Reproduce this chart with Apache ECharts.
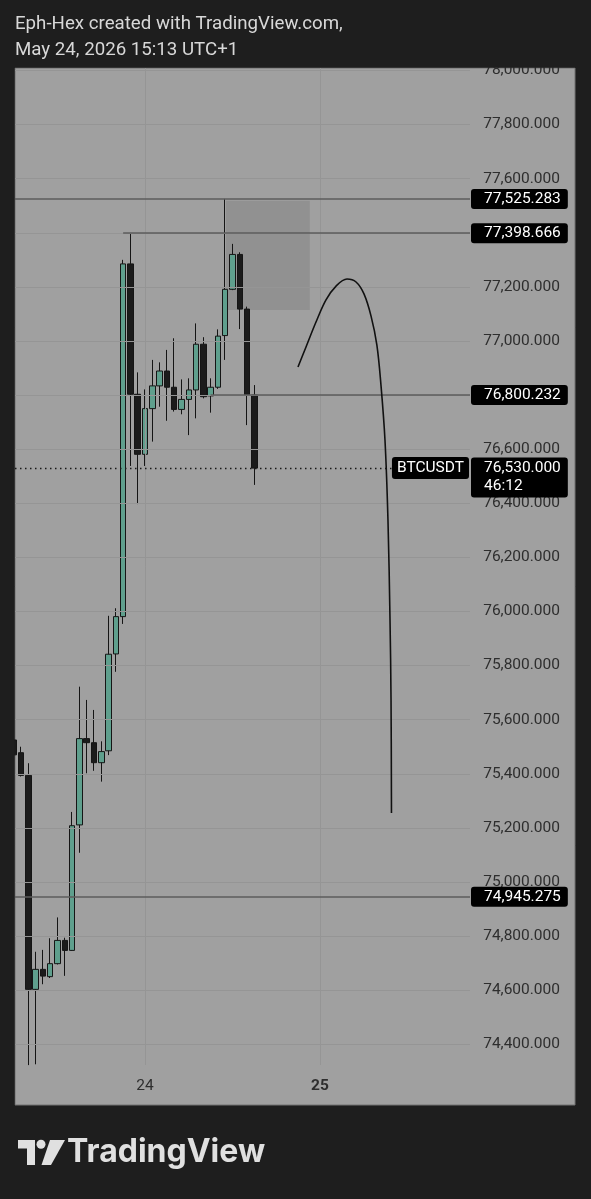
<!DOCTYPE html>
<html>
<head>
<meta charset="utf-8">
<script src="https://cdn.jsdelivr.net/npm/echarts@6/dist/echarts.min.js"></script>
<style>
html,body{margin:0;padding:0;background:#1e1e1e;}
#c{width:591px;height:1199px;}
</style>
</head>
<body>
<div id="c"></div>
<script>
// ---- data (1h candles, hour offset from 24 May 00:00) ----
const hours  = [-18,-17,-16,-15,-14,-13,-12,-11,-10,-9,-8,-7,-6,-5,-4,-3,-2,-1,0,1,2,3,4,5,6,7,8,9,10,11,12,13,14,15];
const opens  = [75525,75478,75394,74603,74677,74650,74698,74784,74747,75211,75530,75515,75441,75485,75843,75981,77285,76803,76581,76750,76834,76889,76829,76747,76784,76819,76988,76797,76829,77020,77191,77320,77118,76800];
const closes = [75470,75394,74603,74677,74652,74698,74784,74747,75208,75530,75515,75441,75482,75842,75981,77285,76803,76581,76750,76834,76889,76829,76747,76784,76819,76988,76794,76829,77018,77191,77320,77118,76800,76530];
const lows   = [75455,75390,74323,74326,74622,74645,74695,74653,74745,75108,75402,75411,75371,75469,75777,75954,76538,76397,76538,76628,76757,76705,76739,76729,76652,76714,76788,76735,76823,76930,77188,77044,76689,76468];
const highs  = [75535,75500,75439,74742,74749,74792,74869,74794,75259,75722,75673,75636,75520,75984,76012,77300,77398.666,76884,76821,76930,76921,76967,77010,76858,76862,77065,77014,76862,77043,77525.283,77359,77328,77127,76837];

const yTicks = [74400,74600,74800,75000,75200,75400,75600,75800,76000,76200,76400,76600,76800,77000,77200,77400,77600,77800,78000];
const xTicks = [0, 24];
const xTickLabels = ['24', '25'];

const fullLevels = [77525.283, 74945.275];
const rayStarts  = [-3, 9];
const rayLevels  = [77398.666, 76800.232];
const lastPrice  = 76530.000;
const countdown  = '46:12';
const symbol     = 'BTCUSDT';

const boxHours  = [11.1, 22.6];
const boxPrices = [77115, 77518];

const curveHours  = [20.98,22.08,23.45,24.82,26.2,27.7,28.94,30.03,31.0,31.8,32.36,32.91,33.32,33.6,33.74,33.8];
const curvePrices = [76904,76978,77070,77152,77203,77229,77218,77174,77092,76985,76837,76634,76338,75969,75673,75255];

// ---- axis ranges ----
const xMin = -17.83, xMax = 44.57;
const yMin = 74323.4, yMax = 78009.2;

const fmt = v => Number(v).toLocaleString('en-US', {minimumFractionDigits: 3, maximumFractionDigits: 3});
const FONT = 'Roboto';

const tagLabel = {
  show: true, position: 'end', distance: 1,
  backgroundColor: '#000', color: '#fff', fontFamily: FONT, fontSize: 15.5,
  lineHeight: 16, padding: [2, 7, 2, 13], borderRadius: 3
};

const chart = echarts.init(document.getElementById('c'), null, {renderer: 'canvas'});
chart.setOption({
  animation: false,
  backgroundColor: '#1e1e1e',
  grid: {left: 15, right: 121, top: 68, bottom: 134},
  xAxis: {
    type: 'value', min: xMin, max: xMax,
    axisLine: {show: false}, axisTick: {show: false}, splitLine: {show: false},
    axisLabel: {
      customValues: xTicks, margin: 13, color: '#2e2e2e', fontFamily: FONT, fontSize: 15.5,
      formatter: v => { const i = xTicks.indexOf(v); return i === 1 ? '{b|' + xTickLabels[i] + '}' : xTickLabels[i]; },
      rich: {b: {fontWeight: 'bold', color: '#2e2e2e', fontFamily: FONT, fontSize: 15.5}}
    }
  },
  yAxis: {
    type: 'value', position: 'right', min: yMin, max: yMax,
    axisLine: {show: false}, axisTick: {show: false}, splitLine: {show: false},
    axisLabel: {customValues: yTicks, align: 'right', margin: 90, color: '#2e2e2e', fontFamily: FONT, fontSize: 15.5, formatter: fmt}
  },
  graphic: [
    {type: 'rect', z: -100, shape: {x: 15, y: 68, width: 560, height: 1037}, style: {fill: '#a0a0a0', stroke: '#737373', lineWidth: 1}},
    {type: 'rect', z: 100, shape: {x: 0, y: 0, width: 591, height: 67.5}, style: {fill: '#1e1e1e'}},
    {type: 'rect', z: 100, shape: {x: 0, y: 60, width: 14.5, height: 1050}, style: {fill: '#1e1e1e'}},
    {type: 'text', z: 101, x: 15, y: 24, style: {text: 'Eph-Hex created with TradingView.com,', fill: '#d8d8d8', font: '18.7px Roboto', verticalAlign: 'middle'}},
    {type: 'text', z: 101, x: 15, y: 50, style: {text: 'May 24, 2026 15:13 UTC+1', fill: '#d8d8d8', font: '18.7px Roboto', verticalAlign: 'middle'}},
    {type: 'polygon', z: 101, shape: {points: [[18,1140],[35,1140],[35,1165],[27,1165],[27,1148.5],[18,1148.5]]}, style: {fill: '#e0e0e0'}},
    {type: 'circle', z: 101, shape: {cx: 41, cy: 1144.3, r: 4.5}, style: {fill: '#e0e0e0'}},
    {type: 'polygon', z: 101, shape: {points: [[50,1140],[65,1140],[51,1165],[41.5,1165]]}, style: {fill: '#e0e0e0'}},
    {type: 'text', z: 101, x: 67, y: 1152, style: {text: 'TradingView', fill: '#e0e0e0', font: 'bold 32px Inter', verticalAlign: 'middle'}}
  ],
  series: [
    {
      type: 'line', data: [], z: 1, silent: true,
      markLine: {
        silent: true, symbol: 'none', label: {show: false},
        lineStyle: {color: '#959595', width: 1, type: 'solid'},
        data: yTicks.map(v => ({yAxis: v})).concat(xTicks.map(v => ({xAxis: v})))
      },
      markArea: {
        silent: true, itemStyle: {color: '#919191'},
        data: [[{coord: [boxHours[0], boxPrices[1]]}, {coord: [boxHours[1], boxPrices[0]]}]]
      }
    },
    {
      type: 'candlestick', z: 3,
      encode: {x: 0, y: [1, 2, 3, 4]},
      data: hours.map((h, i) => [h, opens[i], closes[i], lows[i], highs[i]]),
      barWidth: 6,
      itemStyle: {color: '#5f9f8d', color0: '#1b1b1b', borderColor: '#151515', borderColor0: '#151515', borderWidth: 1}
    },
    {
      type: 'line', data: [], z: 4, silent: true,
      markLine: {
        silent: true, symbol: 'none',
        lineStyle: {color: '#5c5c5c', width: 1.5, type: 'solid'},
        data: [
          ...fullLevels.map(v => ({yAxis: v, label: Object.assign({}, tagLabel, {formatter: fmt(v)})})),
          ...rayLevels.map((v, i) => [
            {coord: [rayStarts[i], v], label: Object.assign({}, tagLabel, {formatter: fmt(v)})},
            {coord: [xMax, v]}
          ]),
          {yAxis: lastPrice, lineStyle: {color: '#1a1a1a', width: 1.3, type: [1.5, 3.5]},
            label: Object.assign({}, tagLabel, {formatter: fmt(lastPrice) + '\n' + countdown, lineHeight: 18, padding: [2, 7, 2, 13], offset: [0, 9.5]})},
          {yAxis: lastPrice, lineStyle: {color: 'rgba(0,0,0,0)', width: 0},
            label: Object.assign({}, tagLabel, {position: 'insideEnd', distance: 1, formatter: symbol, padding: [3, 5, 3, 5]})}
        ]
      }
    },
    {
      type: 'line', z: 5, silent: true, smooth: 0.35, showSymbol: false,
      data: curveHours.map((h, i) => [h, curvePrices[i]]),
      lineStyle: {color: '#111', width: 1.6}
    }
  ]
});
</script>
</body>
</html>
